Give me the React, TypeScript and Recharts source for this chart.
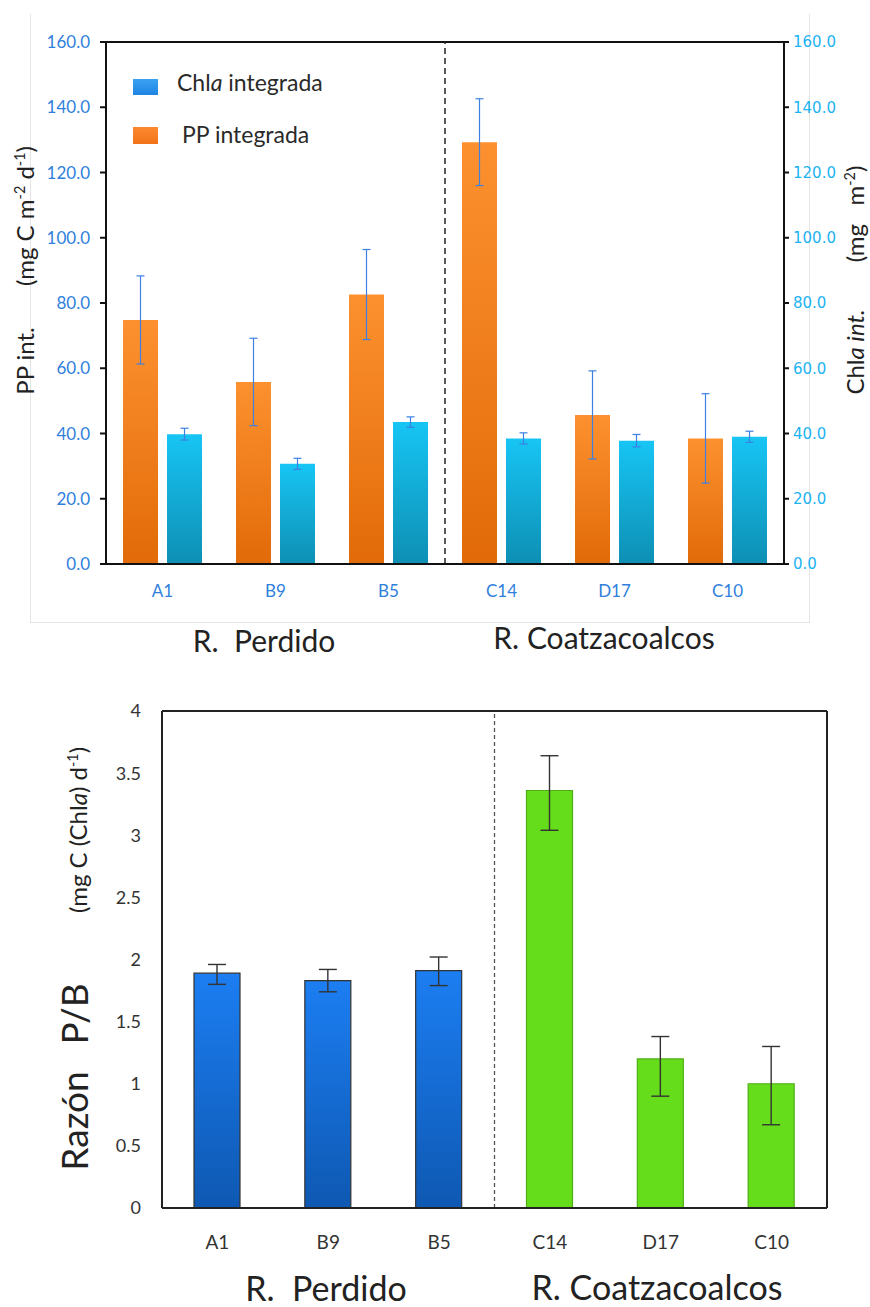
import React from "react";
import { BarChart, Bar, XAxis, YAxis, ErrorBar, ReferenceLine, Cell } from "recharts";

// estaciones y valores
const stations = ["A1", "B9", "B5", "C14", "D17", "C10"];
const ppInt = [74.8, 55.8, 82.6, 129.3, 45.7, 38.5];
const ppErr = [13.5, 13.4, 13.8, 13.3, 13.5, 13.7];
const chlaInt = [39.8, 30.7, 43.5, 38.5, 37.8, 39.0];
const chlaErr = [1.8, 1.7, 1.6, 1.7, 1.9, 1.7];
const topTicks = [0, 20, 40, 60, 80, 100, 120, 140, 160];

const pbRatio = [1.89, 1.83, 1.91, 3.36, 1.2, 1.0];
const pbErrLow = [0.09, 0.09, 0.12, 0.32, 0.3, 0.33];
const pbErrHigh = [0.07, 0.09, 0.11, 0.28, 0.18, 0.3];
const pbTicks = [0, 0.5, 1, 1.5, 2, 2.5, 3, 3.5, 4];

const topData = stations.map((s, i) => ({
  station: s,
  pp: ppInt[i],
  ppErr: ppErr[i],
  chla: chlaInt[i],
  chlaErr: chlaErr[i],
}));

const pbData = stations.map((s, i) => ({
  station: s,
  pb: pbRatio[i],
  pbErr: [pbErrLow[i], pbErrHigh[i]],
}));

const FONT = "Lato, 'Open Sans', sans-serif";

const rot = (x: number, y: number, size: number, extra: React.CSSProperties = {}): React.CSSProperties => ({
  position: "absolute",
  left: x,
  top: y,
  transform: "translate(-50%, -50%) rotate(-90deg)",
  whiteSpace: "pre",
  fontSize: size,
  color: "#222",
  fontFamily: FONT,
  lineHeight: 1,
  ...extra,
});

const centered = (x: number, y: number, size: number): React.CSSProperties => ({
  position: "absolute",
  left: x,
  top: y,
  transform: "translate(-50%, -50%)",
  whiteSpace: "pre",
  fontSize: size,
  color: "#222",
  fontFamily: FONT,
  lineHeight: 1,
});

const sup: React.CSSProperties = { fontSize: "0.6em", verticalAlign: "0.6em" };

export default function App() {
  return (
    <div style={{ position: "absolute", left: 0, top: 0, width: 870, height: 1307, background: "#fff", fontFamily: FONT }}>
      {/* marco gris claro del primer gráfico */}
      <div
        style={{
          position: "absolute",
          left: 30,
          top: 14,
          width: 778,
          height: 608,
          borderLeft: "1px solid #e4e4e4",
          borderRight: "1px solid #e4e4e4",
          borderBottom: "1px solid #e4e4e4",
        }}
      />
      <div style={{ position: "absolute", left: 0, top: 0 }}>
        <BarChart
          width={870}
          height={660}
          data={topData}
          margin={{ top: 42, right: 26, bottom: 66, left: 46 }}
          barGap={9}
          barCategoryGap="15%"
        >
          <defs>
            <linearGradient id="gradPP" x1="0" y1="0" x2="0" y2="1">
              <stop offset="0%" stopColor="#fd912f" />
              <stop offset="100%" stopColor="#e26a08" />
            </linearGradient>
            <linearGradient id="gradChla" x1="0" y1="0" x2="0" y2="1">
              <stop offset="0%" stopColor="#17c5f4" />
              <stop offset="100%" stopColor="#0e8fb4" />
            </linearGradient>
          </defs>
          <XAxis
            dataKey="station"
            height={30}
            axisLine={{ stroke: "#111", strokeWidth: 2 }}
            tickLine={false}
            tickSize={0}
            tickMargin={21}
            tick={{ fill: "#2f7fdc", fontSize: 17, fontFamily: FONT }}
          />
          <YAxis
            yAxisId="left"
            domain={[0, 160]}
            ticks={topTicks}
            width={60}
            tickFormatter={(v: number) => v.toFixed(1)}
            axisLine={{ stroke: "#111", strokeWidth: 2 }}
            tickLine={{ stroke: "#111", strokeWidth: 2 }}
            tickSize={6}
            tickMargin={10}
            tick={{ fill: "#2f7fdc", fontSize: 17, fontFamily: FONT }}
          />
          <YAxis
            yAxisId="right"
            orientation="right"
            domain={[0, 160]}
            ticks={topTicks}
            width={60}
            tickFormatter={(v: number) => v.toFixed(1)}
            axisLine={{ stroke: "#111", strokeWidth: 2 }}
            tickLine={{ stroke: "#111", strokeWidth: 2 }}
            tickSize={5}
            tickMargin={4}
            tick={{ fill: "#1db3f2", fontSize: 15, fontFamily: "'DejaVu Sans', sans-serif" }}
          />
          <ReferenceLine yAxisId="left" y={160} stroke="#111" strokeWidth={2} />
          <ReferenceLine yAxisId="left" x="C14" position="start" stroke="#222" strokeWidth={1.5} strokeDasharray="6 4" />
          <Bar yAxisId="left" dataKey="pp" fill="url(#gradPP)" barSize={35} isAnimationActive={false}>
            <ErrorBar dataKey="ppErr" width={4} stroke="#3d80e4" strokeWidth={1.2} direction="y" />
          </Bar>
          <Bar yAxisId="right" dataKey="chla" fill="url(#gradChla)" barSize={35} isAnimationActive={false}>
            <ErrorBar dataKey="chlaErr" width={4} stroke="#3d80e4" strokeWidth={1.2} direction="y" />
          </Bar>
        </BarChart>
      </div>

      {/* leyenda */}
      <div style={{ position: "absolute", left: 133, top: 79, width: 25, height: 16, background: "linear-gradient(#3aa2f2, #1f84e2)" }} />
      <div style={{ position: "absolute", left: 177, top: 71, fontSize: 23, color: "#2a2a2a", whiteSpace: "pre", lineHeight: 1 }}>
        Chl<i>a</i> integrada
      </div>
      <div style={{ position: "absolute", left: 133, top: 127, width: 25, height: 17, background: "linear-gradient(#fd8a30, #f27318)" }} />
      <div style={{ position: "absolute", left: 182, top: 123, fontSize: 23, color: "#2a2a2a", whiteSpace: "pre", lineHeight: 1 }}>
        PP integrada
      </div>

      {/* títulos de ejes superiores */}
      <div style={rot(25, 361, 24)}>PP int.</div>
      <div style={rot(25, 216, 24)}>
        (mg C m<span style={sup}>-2</span> d<span style={sup}>-1</span>)
      </div>
      <div style={rot(855, 352, 24)}>
        Chl<i>a int.</i>
      </div>
      <div style={rot(855, 214, 24)}>
        (mg   m<span style={sup}>-2</span>)
      </div>
      <div style={centered(264, 640, 30)}>R.  Perdido</div>
      <div style={centered(604, 637, 30)}>R. Coatzacoalcos</div>

      {/* segundo gráfico: razón P/B */}
      <div style={{ position: "absolute", left: 0, top: 660 }}>
        <BarChart
          width={870}
          height={647}
          data={pbData}
          margin={{ top: 51, right: 43, bottom: 59, left: 102 }}
          barCategoryGap="30%"
        >
          <defs>
            <linearGradient id="gradPB" x1="0" y1="0" x2="0" y2="1">
              <stop offset="0%" stopColor="#1c7ef2" />
              <stop offset="100%" stopColor="#0e58b2" />
            </linearGradient>
          </defs>
          <XAxis
            dataKey="station"
            height={40}
            axisLine={{ stroke: "#222", strokeWidth: 2 }}
            tickLine={false}
            tickSize={0}
            tickMargin={28}
            tick={{ fill: "#333", fontSize: 19, fontFamily: FONT }}
          />
          <YAxis
            domain={[0, 4]}
            ticks={pbTicks}
            width={60}
            axisLine={{ stroke: "#222", strokeWidth: 2 }}
            tickLine={false}
            tickSize={0}
            tickMargin={21}
            tick={{ fill: "#333", fontSize: 18, fontFamily: FONT }}
          />
          <ReferenceLine y={4} stroke="#222" strokeWidth={2} />
          <ReferenceLine x="C10" position="end" stroke="#222" strokeWidth={2} />
          <ReferenceLine x="C14" position="start" stroke="#555" strokeWidth={1.3} strokeDasharray="4 3" />
          <Bar dataKey="pb" barSize={46} isAnimationActive={false}>
            {pbData.map((d, i) => (
              <Cell
                key={d.station}
                fill={i < 3 ? "url(#gradPB)" : "#66dd1a"}
                stroke={i < 3 ? "#333" : "#4fae16"}
                strokeWidth={1.2}
              />
            ))}
            <ErrorBar dataKey="pbErr" width={9} stroke="#333" strokeWidth={1.4} direction="y" />
          </Bar>
        </BarChart>
      </div>

      {/* títulos del segundo gráfico */}
      <div style={rot(78, 830, 24)}>
        (mg C (Chl<i>a</i>) d<span style={sup}>-1</span>)
      </div>
      <div style={rot(73, 1121, 37)}>Razón</div>
      <div style={rot(73, 1014, 37)}>P/B</div>
      <div style={centered(326, 1288, 34)}>R.  Perdido</div>
      <div style={centered(657, 1287, 34)}>R. Coatzacoalcos</div>
    </div>
  );
}
